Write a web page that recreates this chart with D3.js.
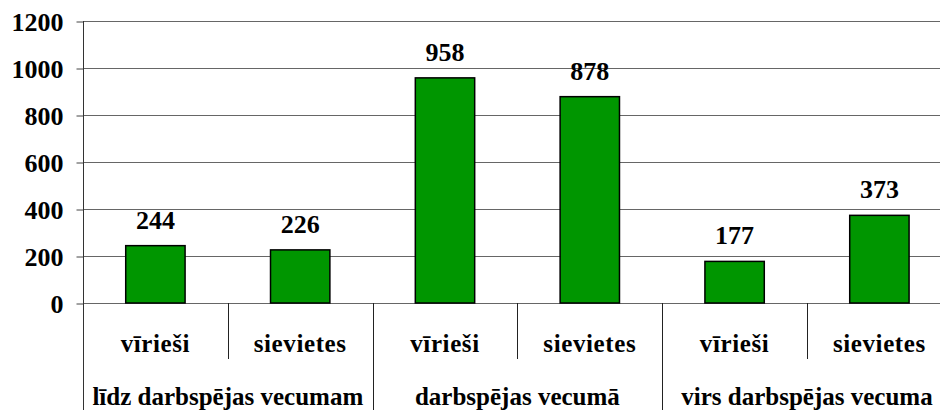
<!DOCTYPE html>
<html><head><meta charset="utf-8">
<script src="https://cdn.jsdelivr.net/npm/d3@7"></script>
<style>html,body{margin:0;padding:0;background:#fff;overflow:hidden}
text{font-family:"Liberation Serif","Times New Roman",Times,"DejaVu Serif",serif;font-weight:bold;}</style>
</head><body>
<svg id="c" width="940" height="410"></svg>
<script>
const categories = ["vīrieši","sievietes","vīrieši","sievietes","vīrieši","sievietes"];
const groups = ["līdz darbspējas vecumam","darbspējas vecumā","virs darbspējas vecuma"];
const values = [244,226,958,878,177,373];
const yTicks = [0,200,400,600,800,1000,1200];

const svg = d3.select("#c");
const mLeft = 83, mTop = 21, mBottom = 303, step = 144.8;
const x = d3.scaleBand().domain(d3.range(categories.length)).range([mLeft, mLeft + step*categories.length]).padding(0);
const y = d3.scaleLinear().domain([0,1200]).range([mBottom, mTop]);

// gridlines
svg.append("g").selectAll("line").data(yTicks).join("line")
  .attr("x1", mLeft).attr("x2", 940)
  .attr("y1", d=>y(d)+0.5).attr("y2", d=>y(d)+0.5)
  .attr("stroke", "#666").attr("stroke-width", 1);

// y axis
const yAxis = d3.axisLeft(y).tickValues(yTicks).tickSize(7).tickPadding(13).tickFormat(d3.format("d"));
const ya = svg.append("g").attr("transform", `translate(${mLeft+0.5},0.5)`).call(yAxis)
  .attr("font-family", null).attr("font-size", null);
ya.select(".domain").remove();
ya.selectAll(".tick line").attr("stroke","#444");
ya.selectAll("text").style("font-size","26px").attr("fill","#000").attr("dy","0.33em");
svg.append("line").attr("x1", mLeft+0.5).attr("x2", mLeft+0.5).attr("y1", mTop).attr("y2", 410).attr("stroke","#333");

// bars
const bw = x.bandwidth()*0.41;
svg.append("g").selectAll("rect").data(values).join("rect")
  .attr("x", (d,i)=>x(i)+x.bandwidth()/2-bw/2)
  .attr("y", d=>y(d))
  .attr("width", bw)
  .attr("height", d=>y(0)-y(d))
  .attr("fill", "#009600").attr("stroke","#000").attr("stroke-width",1.5);

// value labels
svg.append("g").selectAll("text").data(values).join("text")
  .attr("x", (d,i)=>x(i)+x.bandwidth()/2)
  .attr("y", d=>y(d)-17)
  .attr("text-anchor","middle")
  .style("font-size","26px")
  .text(d=>d);

// inner category separators
svg.append("g").selectAll("line").data(d3.range(1, categories.length)).join("line")
  .attr("x1", i=>Math.round(x(i))+0.5).attr("x2", i=>Math.round(x(i))+0.5)
  .attr("y1", mBottom).attr("y2", i=> i%2===0 ? 410 : 359)
  .attr("stroke","#222");

// category labels
svg.append("g").selectAll("text").data(categories).join("text")
  .attr("x", (d,i)=>x(i)+x.bandwidth()/2)
  .attr("y", 352)
  .attr("text-anchor","middle")
  .style("font-size","25px")
  .attr("letter-spacing", 0.6)
  .text(d=>d);

// group labels
svg.append("g").selectAll("text").data(groups).join("text")
  .attr("x", (d,i)=>x(i*2)+x.bandwidth())
  .attr("y", 405)
  .attr("text-anchor","middle")
  .style("font-size","25px")
  .text(d=>d);
</script>
</body></html>
